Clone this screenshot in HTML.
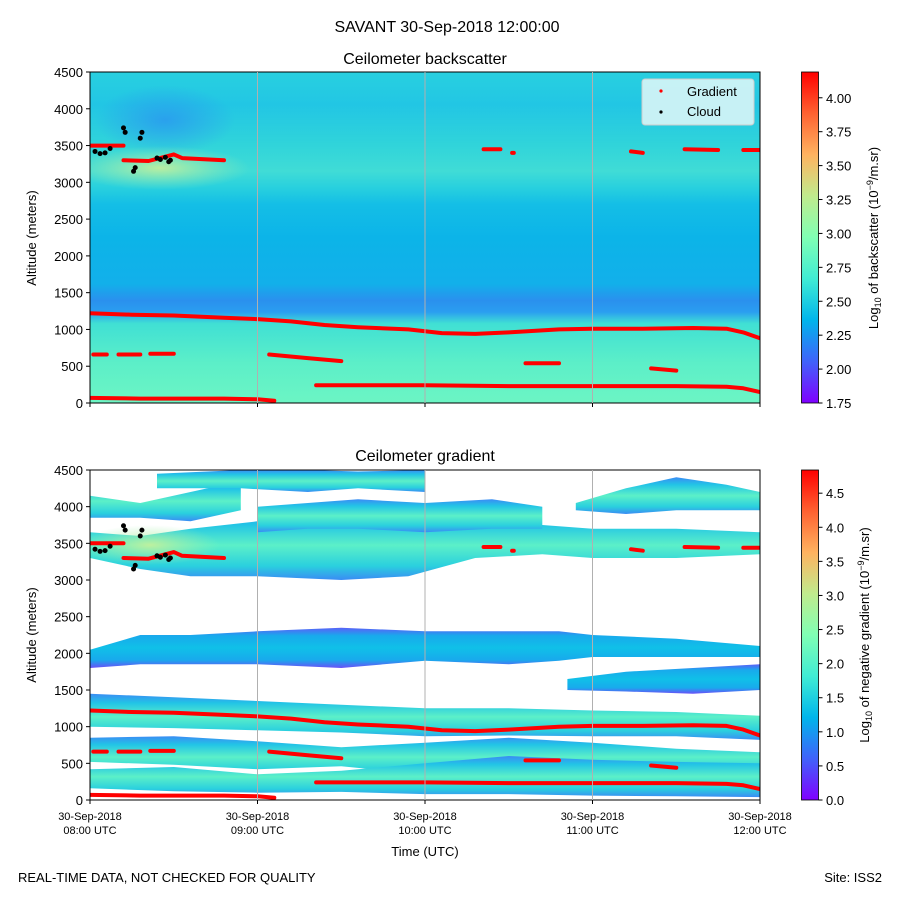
<!DOCTYPE html>
<html><head><meta charset="utf-8">
<style>
body{margin:0;background:#fff;}
svg text{font-family:"Liberation Sans","DejaVu Sans",sans-serif;fill:#000;}
</style></head>
<body>
<svg id="fig" width="900" height="900" viewBox="0 0 900 900" xmlns="http://www.w3.org/2000/svg">
<defs>
  <linearGradient id="rainbow" x1="0" y1="1" x2="0" y2="0">
    <stop offset="0" stop-color="#8000ff"/>
    <stop offset="0.125" stop-color="#4062fa"/>
    <stop offset="0.25" stop-color="#00b5eb"/>
    <stop offset="0.375" stop-color="#40ecd4"/>
    <stop offset="0.5" stop-color="#80ffb4"/>
    <stop offset="0.625" stop-color="#c0eb8d"/>
    <stop offset="0.75" stop-color="#ffb360"/>
    <stop offset="0.875" stop-color="#ff6231"/>
    <stop offset="1" stop-color="#ff0000"/>
  </linearGradient>
  <linearGradient id="bsbg" x1="0" y1="1" x2="0" y2="0">
    <stop offset="0" stop-color="#6cf5c4"/>
    <stop offset="0.12" stop-color="#5cefc8"/>
    <stop offset="0.24" stop-color="#40e0d4"/>
    <stop offset="0.275" stop-color="#2a9ef0"/>
    <stop offset="0.31" stop-color="#2a90ee"/>
    <stop offset="0.36" stop-color="#12b0ea"/>
    <stop offset="0.5" stop-color="#0cb4e8"/>
    <stop offset="0.6" stop-color="#14bee6"/>
    <stop offset="0.65" stop-color="#28d0de"/>
    <stop offset="0.7" stop-color="#40dcd6"/>
    <stop offset="0.78" stop-color="#30d4da"/>
    <stop offset="0.9" stop-color="#22c6e4"/>
    <stop offset="1" stop-color="#28d0e0"/>
  </linearGradient>
  <linearGradient id="bandg" x1="0" y1="0" x2="0" y2="1">
    <stop offset="0" stop-color="#3a8cf4"/>
    <stop offset="0.2" stop-color="#22c4e6"/>
    <stop offset="0.5" stop-color="#5cf0c8"/>
    <stop offset="0.8" stop-color="#2ad0de"/>
    <stop offset="1" stop-color="#3a8cf4"/>
  </linearGradient>
  <linearGradient id="bandb" x1="0" y1="0" x2="0" y2="1">
    <stop offset="0" stop-color="#5a60f8"/>
    <stop offset="0.2" stop-color="#18aaec"/>
    <stop offset="0.5" stop-color="#10c0e8"/>
    <stop offset="0.8" stop-color="#18aaec"/>
    <stop offset="1" stop-color="#6a50f8"/>
  </linearGradient>
  <radialGradient id="warm" cx="0.5" cy="0.5" r="0.5">
    <stop offset="0" stop-color="#c8f09a" stop-opacity="0.9"/>
    <stop offset="1" stop-color="#a0f0b0" stop-opacity="0"/>
  </radialGradient>
  <radialGradient id="bluepatch" cx="0.5" cy="0.5" r="0.5">
    <stop offset="0" stop-color="#2a96f0" stop-opacity="0.8"/>
    <stop offset="1" stop-color="#2a96f0" stop-opacity="0"/>
  </radialGradient>
  <clipPath id="clipTop"><rect x="90" y="72" width="670" height="331"/></clipPath>
  <clipPath id="clipBot"><rect x="90" y="470" width="670" height="330"/></clipPath>
</defs>

<text x="447" y="32" font-size="16" text-anchor="middle">SAVANT 30-Sep-2018 12:00:00</text>

<g id="top">
  <text x="425" y="64" font-size="16" text-anchor="middle">Ceilometer backscatter</text>
  <g clip-path="url(#clipTop)">
    <rect x="90" y="72" width="670" height="331" fill="url(#bsbg)"/>
    <ellipse cx="165" cy="120" rx="70" ry="35" fill="url(#bluepatch)"/>
    <ellipse cx="160" cy="168" rx="90" ry="22" fill="url(#warm)"/>
    <g id="topMarks"></g>
  </g>
  <rect x="90" y="72" width="670" height="331" fill="none" stroke="#000" stroke-width="1"/>
  <g id="topAxes"></g>
  <text transform="translate(36,238) rotate(-90)" font-size="13" text-anchor="middle">Altitude (meters)</text>
  <g>
    <rect x="642" y="79" width="112" height="46" rx="3" fill="#e4f8f8" fill-opacity="0.85" stroke="#ccc"/>
    <circle cx="661" cy="91" r="1.6" fill="red"/>
    <text x="687" y="96" font-size="13">Gradient</text>
    <circle cx="661" cy="112" r="1.6" fill="#000"/>
    <text x="687" y="116" font-size="13">Cloud</text>
  </g>
  <rect x="801.5" y="72" width="17" height="331" fill="url(#rainbow)" stroke="#000" stroke-width="0.8"/>
  <g id="cb1"></g>
  <text transform="translate(878,238) rotate(-90)" font-size="13" text-anchor="middle">Log<tspan font-size="9" dy="3">10</tspan><tspan dy="-3"> of backscatter (10</tspan><tspan font-size="9" dy="-5">−9</tspan><tspan dy="5">/m.sr)</tspan></text>
</g>

<g id="bot">
  <text x="425" y="461" font-size="16" text-anchor="middle">Ceilometer gradient</text>
  <g clip-path="url(#clipBot)">
    <rect x="90" y="470" width="670" height="330" fill="#fff"/>
    <g id="bands"></g>
    <ellipse cx="150" cy="545" rx="70" ry="20" fill="url(#warm)"/>
    <g id="botMarks"></g>
  </g>
  <rect x="90" y="470" width="670" height="330" fill="none" stroke="#000" stroke-width="1"/>
  <g id="botAxes"></g>
  <text transform="translate(36,635) rotate(-90)" font-size="13" text-anchor="middle">Altitude (meters)</text>
  <text x="425" y="856" font-size="13" text-anchor="middle">Time (UTC)</text>
  <rect x="801.5" y="470" width="17" height="330" fill="url(#rainbow)" stroke="#000" stroke-width="0.8"/>
  <g id="cb2"></g>
  <text transform="translate(869,635) rotate(-90)" font-size="13" text-anchor="middle">Log<tspan font-size="9" dy="3">10</tspan><tspan dy="-3"> of negative gradient (10</tspan><tspan font-size="9" dy="-5">−9</tspan><tspan dy="5">/m.sr)</tspan></text>
</g>

<text x="18" y="882" font-size="13">REAL-TIME DATA, NOT CHECKED FOR QUALITY</text>
<text x="882" y="882" font-size="13" text-anchor="end">Site: ISS2</text>
</svg>

<script>
// ---- data ----
const yTicks = [0,500,1000,1500,2000,2500,3000,3500,4000,4500];
const xTickHours = [0,1,2,3,4];
const xTickDate = ["30-Sep-2018","30-Sep-2018","30-Sep-2018","30-Sep-2018","30-Sep-2018"];
const xTickTime = ["08:00 UTC","09:00 UTC","10:00 UTC","11:00 UTC","12:00 UTC"];
const cb1Ticks = [1.75,2.00,2.25,2.50,2.75,3.00,3.25,3.50,3.75,4.00];
const cb1Range = [1.75,4.19];
const cb2Ticks = [0.0,0.5,1.0,1.5,2.0,2.5,3.0,3.5,4.0,4.5];
const cb2Range = [0.0,4.84];

// gradient layer segments (hours since 08:00, altitude m)
const gradSegT = [
 [0,0.25,0.5,0.8,1,1.2,1.4,1.6,1.9,2.1,2.3,2.5,2.8,3.0,3.3,3.6,3.8,3.9,4],
 [0.02,0.1], [0.17,0.3], [0.36,0.5],
 [1.07,1.3,1.5],
 [2.6,2.8],
 [3.35,3.5],
 [1.35,2,2.5,3,3.5,3.8,3.9,4],
 [0,0.3,0.5,0.8,1.0,1.1],
 [0,0.2], [0.2,0.35,0.5,0.55,0.8],
 [2.35,2.45], [2.52,2.53], [3.23,3.3], [3.55,3.75], [3.9,4]
];
const gradSegA = [
 [1220,1200,1190,1160,1140,1110,1060,1030,1000,950,940,960,1000,1010,1010,1020,1010,960,880],
 [660,660], [660,660], [670,670],
 [660,610,570],
 [540,540],
 [470,440],
 [240,240,230,230,230,220,200,150],
 [70,60,60,60,50,30],
 [3500,3500], [3300,3290,3380,3330,3300],
 [3450,3450], [3400,3400], [3420,3400], [3450,3440], [3440,3440]
];
// cloud points
const cloudT = [0.03,0.06,0.09,0.12,0.2,0.21,0.26,0.27,0.3,0.31,0.4,0.42,0.45,0.47,0.48];
const cloudA = [3420,3390,3400,3460,3740,3680,3150,3200,3600,3680,3330,3310,3340,3280,3300];

// gradient-field bands
const bandT = [
 [0,0.5,1,1.5,2,2.5,3,3.5,4],
 [0,0.5,1,1.5,2,2.5,3,3.5,4],
 [0,0.5,1,1.5,2,2.5,3,3.5,4],
 [2.85,3.2,3.6,4],
 [0,0.3,0.6,1,1.5,2,2.5,2.8,3,3.5,4],
 [0,0.3,0.6,1,1.5,1.9,2.3,2.7,3,3.5,4],
 [0,0.3,0.6,0.9],
 [1.0,1.3,1.6,2.0,2.4,2.7],
 [0.4,0.9,1.3,1.6,2.0],
 [2.9,3.2,3.5,3.8,4.0]
];
const bandTop = [
 [1450,1400,1350,1300,1250,1250,1220,1200,1150],
 [850,870,800,720,780,850,780,700,650],
 [420,450,350,400,500,600,550,520,500],
 [1650,1750,1800,1850],
 [2050,2250,2250,2300,2350,2300,2300,2300,2250,2200,2100],
 [3650,3600,3700,3800,3900,3950,3900,3750,3700,3700,3650],
 [4150,4050,4200,4350],
 [4000,4050,4100,4050,4100,4000],
 [4450,4500,4500,4480,4500],
 [4050,4250,4400,4300,4200]
];
const bandBot = [
 [1000,980,950,920,870,880,870,870,820],
 [520,480,420,460,350,300,500,450,420],
 [160,120,100,110,80,80,60,50,40],
 [1500,1480,1450,1500],
 [1800,1850,1850,1850,1800,1900,1850,1900,1950,1950,1950],
 [3300,3150,3050,3050,3000,3050,3300,3350,3300,3300,3350],
 [3850,3850,3800,3950],
 [3650,3700,3700,3650,3700,3700],
 [4250,4250,4200,4250,4200],
 [3950,3900,3950,3950,3950]
];
const bandKind = ["g","g","g","b","b","g","g","g","g","g"];

// ---- helpers ----
const NS = "http://www.w3.org/2000/svg";
const X0=90, X1=760;
function xS(h){ return X0 + h*(X1-X0)/4; }
function yTop(a){ return 403 - a*(331/4500); }
function yBot(a){ return 800 - a*(330/4500); }
function mk(tag, attrs, parent){
  const e=document.createElementNS(NS,tag);
  for(const k in attrs) e.setAttribute(k,attrs[k]);
  parent.appendChild(e); return e;
}

function drawAxes(gid, yf, showLabels){
  const g=document.getElementById(gid);
  xTickHours.forEach((h,i)=>{
    const x=xS(h);
    if(i>0 && i<4){
      const gl=mk('line',{x1:x,x2:x,y1:yf(4500),y2:yf(0),stroke:'#b0b0b0','stroke-width':1},g);
      
      
    }
    const t=mk('line',{x1:x,x2:x,y1:yf(0),y2:yf(0)+4,stroke:'#000'},g);
    
    
    if(showLabels){
      const l1=mk('text',{x:x,y:yf(0)+20,'font-size':11,'text-anchor':'middle'},g);
      l1.textContent=xTickDate[i];
      
      
      const l2=mk('text',{x:x,y:yf(0)+34,'font-size':11,'text-anchor':'middle'},g);
      l2.textContent=xTickTime[i];
      
      
    }
  });
  yTicks.forEach(v=>{
    const y=yf(v);
    const t=mk('line',{x1:86,x2:90,y1:y,y2:y,stroke:'#000'},g);
    
    
    const l=mk('text',{x:83,y:y+5,'font-size':13,'text-anchor':'end'},g);
    l.textContent=v;
    
    
  });
}

function drawCb(gid, ticks, range, yb, yt, dec){
  const g=document.getElementById(gid);
  ticks.forEach(v=>{
    const y=yb-(v-range[0])/(range[1]-range[0])*(yb-yt);
    const t=mk('line',{x1:818.5,x2:822.5,y1:y,y2:y,stroke:'#000'},g);
    
    
    const l=mk('text',{x:826,y:y+5,'font-size':13},g);
    l.textContent=v.toFixed(dec);
    
    
  });
}

function drawMarks(gid, yf){
  const g=document.getElementById(gid);
  gradSegT.forEach((ts,i)=>{
    const pts=ts.map((t,j)=>xS(t).toFixed(1)+','+yf(gradSegA[i][j]).toFixed(1)).join(' ');
    const p=mk('polyline',{points:pts,fill:'none',stroke:'#ff0000','stroke-width':4,'stroke-linecap':'round','stroke-linejoin':'round'},g);
    
    
  });
  cloudT.forEach((t,i)=>{
    const c=mk('circle',{cx:xS(t),cy:yf(cloudA[i]),r:2.5,fill:'#000'},g);
    
    
  });
}

function drawBands(){
  const g=document.getElementById('bands');
  bandT.forEach((ts,i)=>{
    const top=ts.map((t,j)=>xS(t).toFixed(1)+','+yBot(bandTop[i][j]).toFixed(1));
    const bot=ts.map((t,j)=>xS(t).toFixed(1)+','+yBot(bandBot[i][j]).toFixed(1)).reverse();
    const p=mk('polygon',{points:top.concat(bot).join(' '),fill:bandKind[i]==='g'?'url(#bandg)':'url(#bandb)'},g);
    
    
  });
}

drawBands();
drawMarks('topMarks', yTop);
drawMarks('botMarks', yBot);
drawAxes('topAxes', yTop, false);
drawAxes('botAxes', yBot, true);
drawCb('cb1', cb1Ticks, cb1Range, 403, 72, 2);
drawCb('cb2', cb2Ticks, cb2Range, 800, 470, 1);
</script>
</body></html>
